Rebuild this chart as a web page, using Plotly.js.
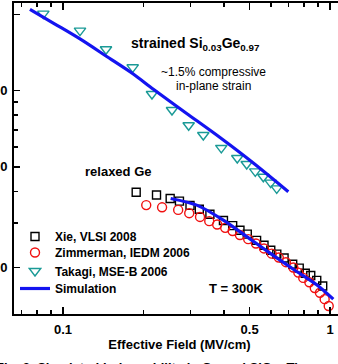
<!DOCTYPE html>
<html>
<head>
<meta charset="utf-8">
<script src="https://cdn.plot.ly/plotly-3.0.1.min.js"></script>
<style>
html,body{margin:0;padding:0;overflow:hidden;background:#fff;}
#chart{width:350px;height:364px;}
</style>
</head>
<body>
<div id="chart"></div>
<script>
// ---- data (effective field in MV/cm, hole mobility in cm^2/Vs) ----
const xieField = [0.188,0.224,0.252,0.273,0.299,0.324,0.355,0.399,0.432,0.460,0.490,0.531,0.566,0.600,0.632,0.673,0.725,0.767,0.808,0.847,0.892,0.939];
const xieMob   = [397,387,375,366,352,340,325,307,293,281,271,256,245,234,226,218,206,199,190,186,178,169];

const zimField = [0.205,0.235,0.270,0.297,0.326,0.353,0.378,0.405,0.432,0.460,0.494,0.528,0.566,0.605,0.643,0.684,0.729,0.761,0.794,0.837,0.877,0.917,0.955,0.989];
const zimMob   = [353,346,338,328,317,305,296,287,279,269,259,249,238,227,219,210,200,191,182,175,166,159,150,141];

const takField = [0.0844,0.1158,0.1449,0.1824,0.2154,0.256,0.2956,0.3353,0.3917,0.4495,0.4876,0.525,0.5627,0.5995,0.6317];
const takMob   = [2016,1727,1458,1237,970,839,730,668,594,542,513,480,457,433,411];

const simStrField = [0.0752,0.0933,0.1158,0.1458,0.1833,0.218,0.2905,0.3873,0.5161,0.698];
const simStrMob   = [2098,1834,1601,1365,1164,1013,813,653,518,399];

const simRelField = [0.2531,0.3168,0.3985,0.4876,0.5959,0.7503,0.8917,1.029];
const simRelMob   = [375,353,308,265,228,193,171,150];

const xTickVals = [0.1,0.5,1];
const xTickText = ['0.1','0.5','1'];
const xMinorVals = [0.07,0.08,0.09,0.2,0.3,0.4,0.6,0.7,0.8,0.9];
const yTickVals = [200,500,1000,2000];
const yTickText = ['200','500','1000',' '];
const yMinorVals = [300,400,600,700,800,900];

const legendNames = ['Xie, VLSI 2008','Zimmerman, IEDM 2006','Takagi, MSE-B 2006','Simulation'];

// ---- styling ----
const FONT = 'Arial, "Liberation Sans", sans-serif';
const teal = '#1a9a96';
const red = '#f01010';
const blue = '#1414f0';

const traces = [
  {x: xieField, y: xieMob, mode:'markers', name: legendNames[0], legend:'legend',
   marker:{symbol:'square-open', size:8, color:'#000', line:{width:1.4, color:'#000'}}},
  {x: zimField, y: zimMob, mode:'markers', name: legendNames[1], legend:'legend2',
   marker:{symbol:'circle-open', size:9, color:red, line:{width:1.4, color:red}}},
  {x: takField, y: takMob, mode:'markers', name: legendNames[2], legend:'legend3',
   marker:{symbol:'triangle-down-open', size:10, color:teal, line:{width:1.4, color:teal}}},
  {x: simStrField, y: simStrMob, mode:'lines', name: legendNames[3], legend:'legend4',
   line:{color:blue, width:3.2, shape:'spline', smoothing:0.8}},
  {x: simRelField, y: simRelMob, mode:'lines', name: legendNames[3], showlegend:false,
   line:{color:blue, width:3.2, shape:'spline', smoothing:0.8}}
];

const L = 14, R = 345, T = 3, B = 314;
const px = v => (v - L) / (R - L);
const py = v => (B - v) / (B - T);

function leg(centerY){
  return {x: px(15), y: py(centerY - 14), xanchor:'left', yanchor:'top',
          bgcolor:'rgba(0,0,0,0)', borderwidth:0,
          font:{family: FONT, size:12, weight:'bold', color:'#000'}, itemwidth:30};
}

const layout = {
  width: 350, height: 364,
  margin: {l: L, r: 350 - R, t: T, b: 364 - B},
  paper_bgcolor:'#fff', plot_bgcolor:'#fff',
  font: {family: FONT, color:'#000', size:13, weight:'bold'},
  showlegend: true,
  legend: leg(236),
  legend2: leg(252),
  legend3: leg(270.5),
  legend4: leg(288),
  xaxis: {type:'log', range:[-1.1835, 0.0562], showgrid:false, zeroline:false,
          showline:true, linewidth:2, linecolor:'#000', mirror:'allticks',
          ticks:'inside', ticklen:7, tickwidth:1.6, tickcolor:'#000',
          tickmode:'array', tickvals: xTickVals, ticktext: xTickText,
          minor:{tickmode:'array', tickvals: xMinorVals, ticks:'inside', ticklen:4, tickwidth:1.6, tickcolor:'#000'},
          tickfont:{family: FONT, size:13, weight:'bold'},
          ticklabelstandoff: 2,
          title:{text:'Effective Field (MV/cm)', font:{family: FONT, size:13, weight:'bold'}, standoff:4}},
  yaxis: {type:'log', range:[2.1174, 3.3466], showgrid:false, zeroline:false,
          showline:true, linewidth:2, linecolor:'#000', mirror:'allticks',
          ticks:'inside', ticklen:6, tickwidth:1.6, tickcolor:'#000',
          tickmode:'array', tickvals: yTickVals, ticktext: yTickText,
          minor:{tickmode:'array', tickvals: yMinorVals, ticks:'inside', ticklen:3.5, tickwidth:1.6, tickcolor:'#000'},
          tickfont:{family: FONT, size:13, weight:'bold'},
          ticklabelstandoff: 2},
  annotations: [
    {xref:'paper', yref:'paper', x: px(129), y: py(44), xanchor:'left', yanchor:'middle', showarrow:false,
     text:'strained Si<sub>0.03</sub>Ge<sub>0.97</sub>', font:{family: FONT, size:14, weight:'bold'}},
    {xref:'paper', yref:'paper', x: px(213), y: py(71.7), xanchor:'center', yanchor:'middle', showarrow:false,
     text:'~1.5% compressive', font:{family: FONT, size:12, weight:'normal'}},
    {xref:'paper', yref:'paper', x: px(213), y: py(86), xanchor:'center', yanchor:'middle', showarrow:false,
     text:'in-plane strain', font:{family: FONT, size:12, weight:'normal'}},
    {xref:'paper', yref:'paper', x: px(83), y: py(171.7), xanchor:'left', yanchor:'middle', showarrow:false,
     text:'relaxed Ge', font:{family: FONT, size:13, weight:'bold'}},
    {xref:'paper', yref:'paper', x: px(207), y: py(288.3), xanchor:'left', yanchor:'middle', showarrow:false,
     text:'T = 300K', font:{family: FONT, size:13, weight:'bold'}},
    {xref:'paper', yref:'paper', x: px(-6), y: py(357.5), xanchor:'left', yanchor:'top', showarrow:false,
     text:'Fig. 3. Simulated hole mobility in Ge and SiGe. The', font:{family: FONT, size:13, weight:'bold'}}
  ]
};

Plotly.newPlot('chart', traces, layout, {staticPlot:true, displayModeBar:false});
</script>
</body>
</html>
